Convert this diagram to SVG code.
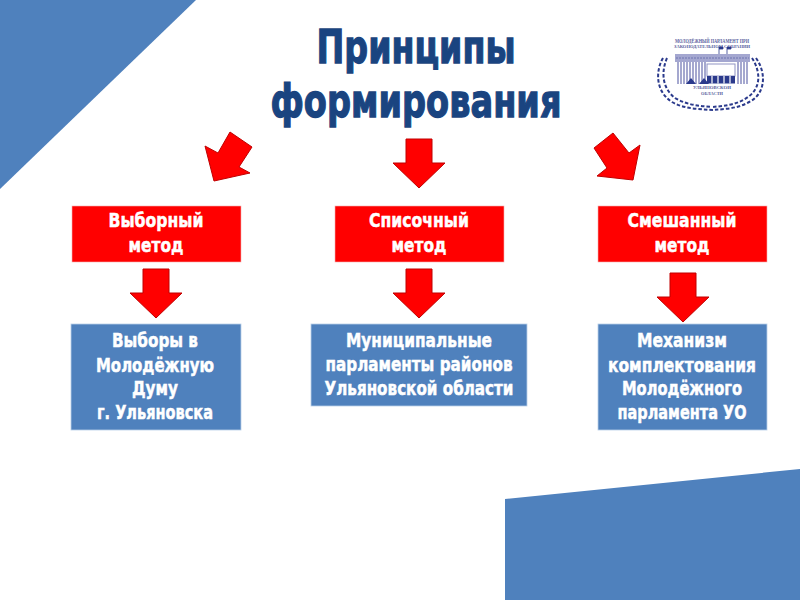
<svg xmlns="http://www.w3.org/2000/svg" width="800" height="600" viewBox="0 0 800 600">
<defs>
<style>
text{font-family:"DejaVu Sans","Liberation Sans",sans-serif;font-weight:700;text-anchor:middle}
.t{font-size:46px;fill:#1a4480;stroke:#1a4480;stroke-width:1.3}
.l{font-size:19.5px;fill:#fff;stroke:#fff;stroke-width:.5}
.m{font-family:"Liberation Serif",serif;fill:#5a5f9e;stroke:none}
.r{fill:#ff0000;stroke:#f4b0b0;stroke-width:.6}
.b{fill:#4f81bd}
.bx{fill:#4f81bd;stroke:#b9d0e8;stroke-width:.8}
.a{fill:#ff0000;stroke:#c00000;stroke-width:1}
.w{fill:none;stroke:#2b3a8c;stroke-width:2;stroke-dasharray:3.5 2}
</style>
<path id="down" d="M-13 -24H13V0H26L0 25L-26 0H-13Z"/>
</defs>
<rect width="800" height="600" fill="#fff"/>
<polygon class="b" points="0,0 196,0 0,189"/>
<polygon class="b" points="505,499 800,469 800,600 505,600"/>
<text class="t" x="416" y="63" textLength="199" lengthAdjust="spacingAndGlyphs">Принципы</text>
<text class="t" x="416" y="117" textLength="291" lengthAdjust="spacingAndGlyphs">формирования</text>
<g id="logo">
<text class="m" x="712" y="43" font-size="5.6" textLength="74" lengthAdjust="spacingAndGlyphs">МОЛОДЁЖНЫЙ ПАРЛАМЕНТ ПРИ</text>
<text class="m" x="712" y="48" font-size="5" textLength="76" lengthAdjust="spacingAndGlyphs">ЗАКОНОДАТЕЛЬНОМ СОБРАНИИ</text>
<path d="M719 55V47h4v2h-4M727 55V47h4v2h-4" fill="#2b3a8c" stroke="#2b3a8c" stroke-width=".8"/>
<rect x="675" y="54" width="75" height="8" fill="#a4a7d0"/>
<path d="M676 58H749" stroke="#6f74b0" stroke-width="1" stroke-dasharray="2 1"/>
<path d="M678 62V84M681 62V84M684 62V84M687 62V84M690 62V84M693 62V84M696 62V84M699 62V84M702 62V84M705 62V84M738 62V84M741 62V84M744 62V84M747 62V84" stroke="#8f93c4" stroke-width="1.6"/>
<rect x="707" y="64" width="28" height="12" fill="#fff" stroke="#8f93c4"/>
<rect x="707" y="76" width="28" height="7.5" fill="#2b3a8c"/>
<path d="M712 76V83.500M718 76V83.500M724 76V83.500M730 76V83.500" stroke="#fff" stroke-width="1.2"/>
<path d="M686 84l5-6 5 6zM699 84l5-6 5 6z" fill="#2b3a8c"/>
<text class="m" x="712" y="89" font-size="5" textLength="38" lengthAdjust="spacingAndGlyphs">УЛЬЯНОВСКОЙ</text>
<text class="m" x="712" y="95" font-size="5" textLength="22" lengthAdjust="spacingAndGlyphs">ОБЛАСТИ</text>
<path class="w" d="M663 58C655 72 656 92 672 102C684 109 699 109 712 110"/>
<path class="w" d="M667 58C661 72 662 88 675 98C687 105 699 106 712 107"/>
<path class="w" d="M756 58C766 72 766 92 751 101C738 109 724 109 712 110"/>
<path class="w" d="M752 58C761 72 761 88 748 97C737 105 724 106 712 107"/>
</g>
<g id="connectors">
<path class="a" d="M230 132L252 147L239 167L250 173L214 181L205 146L218 153Z"/>
<use class="a" href="#down" x="419" y="163"/>
<path class="a" d="M613 133L594 148L607 168L597 176L633 180L640 145L629 153Z"/>
<use class="a" href="#down" x="156" y="293"/>
<use class="a" href="#down" x="419" y="293"/>
<use class="a" href="#down" x="683" y="297"/>
</g>
<g id="n1"><rect class="r" x="72" y="206" width="169" height="56"/><text class="l" x="156" y="227" textLength="95" lengthAdjust="spacingAndGlyphs">Выборный</text><text class="l" x="156" y="252" textLength="55" lengthAdjust="spacingAndGlyphs">метод</text></g>
<g id="n2"><rect class="r" x="335" y="206" width="169" height="56"/><text class="l" x="419" y="227" textLength="100" lengthAdjust="spacingAndGlyphs">Списочный</text><text class="l" x="419" y="252" textLength="55" lengthAdjust="spacingAndGlyphs">метод</text></g>
<g id="n3"><rect class="r" x="598" y="206" width="169" height="56"/><text class="l" x="682" y="227" textLength="109" lengthAdjust="spacingAndGlyphs">Смешанный</text><text class="l" x="682" y="252" textLength="55" lengthAdjust="spacingAndGlyphs">метод</text></g>
<g id="n4"><rect class="bx" x="71" y="324" width="170" height="106"/><text class="l" x="155" y="347" textLength="86" lengthAdjust="spacingAndGlyphs">Выборы в</text><text class="l" x="155" y="372" textLength="118" lengthAdjust="spacingAndGlyphs">Молодёжную</text><text class="l" x="155" y="395" textLength="46" lengthAdjust="spacingAndGlyphs">Думу</text><text class="l" x="155" y="419" textLength="116" lengthAdjust="spacingAndGlyphs">г. Ульяновска</text></g>
<g id="n5"><rect class="bx" x="311" y="324" width="216" height="82"/><text class="l" x="419" y="347" textLength="146" lengthAdjust="spacingAndGlyphs">Муниципальные</text><text class="l" x="419" y="371" textLength="187" lengthAdjust="spacingAndGlyphs">парламенты районов</text><text class="l" x="419" y="395" textLength="189" lengthAdjust="spacingAndGlyphs">Ульяновской области</text></g>
<g id="n6"><rect class="bx" x="598" y="324" width="169" height="106"/><text class="l" x="682" y="347" textLength="90" lengthAdjust="spacingAndGlyphs">Механизм</text><text class="l" x="682" y="372" textLength="148" lengthAdjust="spacingAndGlyphs">комплектования</text><text class="l" x="682" y="395" textLength="120" lengthAdjust="spacingAndGlyphs">Молодёжного</text><text class="l" x="682" y="419" textLength="129" lengthAdjust="spacingAndGlyphs">парламента УО</text></g>
</svg>
